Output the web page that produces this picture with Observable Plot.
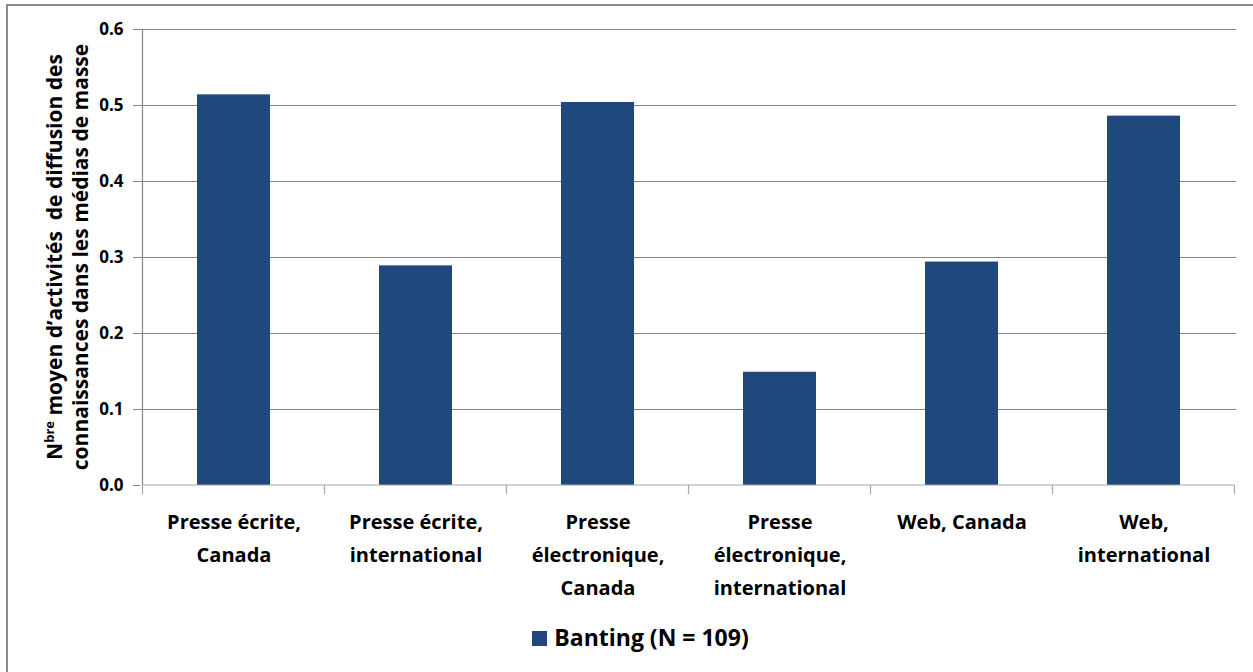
<!DOCTYPE html>
<html>
<head>
<meta charset="utf-8">
<script src="https://cdn.jsdelivr.net/npm/d3@7"></script>
<script src="https://cdn.jsdelivr.net/npm/@observablehq/plot@0.6"></script>
<style>
  body { margin: 0; background: #fff; font-family: "Open Sans", sans-serif; }
  #wrap { position: relative; width: 1253px; height: 672px; overflow: hidden; background: #fff; }
  #frame { position: absolute; left: 6px; top: 4px; width: 1400px; height: 800px;
           border-left: 2px solid #8a8a8a; border-top: 2px solid #8a8a8a; pointer-events: none; }
  #legend { text-align: center; font-weight: bold; font-size: 23px; line-height: 30px;
            padding-top: 10px; padding-left: 28px; color: #000; }
  #legend .sw { display: inline-block; width: 15px; height: 15px; margin-right: 7px; vertical-align: 0px; }
</style>
</head>
<body>
<div id="wrap">
  <div id="chart"></div>
  <div id="legend"></div>
  <div id="frame"></div>
</div>
<script>
// Mean number of mass-media knowledge-dissemination activities, by medium
const categories = [
  "Presse écrite, Canada",
  "Presse écrite, international",
  "Presse électronique, Canada",
  "Presse électronique, international",
  "Web, Canada",
  "Web, international"
];
const tickLabels = [
  "Presse écrite,\nCanada",
  "Presse écrite,\ninternational",
  "Presse\nélectronique,\nCanada",
  "Presse\nélectronique,\ninternational",
  "Web, Canada",
  "Web,\ninternational"
];
const values = [0.514, 0.289, 0.504, 0.149, 0.294, 0.486];
const yTicks = [0, 0.1, 0.2, 0.3, 0.4, 0.5, 0.6];
const seriesName = "Banting (N = 109)";
const seriesColor = "#1f497d";

const data = categories.map((c, i) => ({category: c, label: tickLabels[i], value: values[i]}));

const W = 1253, H = 612, mTop = 29, mBottom = 127, mLeft = 140, mRight = 17;

// category boundary ticks plus the y axis line
function categoryFrame(index, scales, vals, dims) {
  const x = scales.x, y = scales.y;
  const n = categories.length;
  let step, bw;
  if (typeof x.step === "function") { step = x.step(); bw = x.bandwidth(); }
  else { step = (dims.width - dims.marginLeft - dims.marginRight) / n; bw = step * 0.4; }
  const edges = categories.map(c => x(c) - (step - bw) / 2);
  edges.push(edges[n - 1] + step);
  const g = d3.create("svg:g").attr("stroke", "#a6a6a6").attr("stroke-width", 1.2);
  g.append("line").attr("x1", edges[0]).attr("x2", edges[0])
    .attr("y1", y(yTicks[yTicks.length - 1])).attr("y2", y(0)).attr("stroke", "#868686");
  g.append("line").attr("x1", edges[0]).attr("x2", edges[n]).attr("y1", y(0)).attr("y2", y(0));
  for (const e of edges) {
    g.append("line").attr("x1", e).attr("x2", e).attr("y1", y(0)).attr("y2", y(0) + 9);
  }
  return g.node();
}

const plot = Plot.plot({
  width: W,
  height: H,
  marginTop: mTop,
  marginBottom: mBottom,
  marginLeft: mLeft,
  marginRight: mRight,
  style: {fontFamily: "Open Sans", background: "transparent", overflow: "visible"},
  x: {domain: categories, paddingInner: 0.6, paddingOuter: 0.3, axis: null},
  y: {domain: [0, 0.6], axis: null},
  marks: [
    Plot.gridY(yTicks.slice(1), {stroke: "#868686", strokeOpacity: 1, strokeWidth: 1.2}),
    Plot.axisY(yTicks, {
      tickSize: 7, tickPadding: 10, tickFormat: d3.format(".1f"),
      fontSize: 17, fontWeight: "bold", stroke: "#868686", fill: "#000", label: null
    }),
    Plot.barY(data, {x: "category", y: "value", fill: seriesColor}),
    categoryFrame,
    Plot.text(data, {
      x: "category", y: 0, text: "label", lineAnchor: "top", dy: 20,
      fontSize: 20, fontWeight: "bold", lineHeight: 1.65, fill: "#000"
    })
  ]
});

// two-line rotated y axis title
const svg = d3.select(plot);
const cy = (mTop + (H - mBottom)) / 2;
const t1 = svg.append("text")
  .attr("transform", `translate(62,${cy}) rotate(-90)`)
  .attr("text-anchor", "middle")
  .attr("font-family", "Open Sans").attr("font-weight", "bold").attr("font-size", 21)
  .attr("fill", "#000").style("white-space", "pre");
t1.append("tspan").text("N");
t1.append("tspan").attr("font-size", 13).attr("dy", -8).text("bre");
t1.append("tspan").attr("dy", 8).text(" moyen d’activités  de diffusion des");
svg.append("text")
  .attr("transform", `translate(88,${cy}) rotate(-90)`)
  .attr("text-anchor", "middle")
  .attr("font-family", "Open Sans").attr("font-weight", "bold").attr("font-size", 21)
  .attr("fill", "#000")
  .text("connaissances dans les médias de masse");

document.getElementById("chart").appendChild(plot);

const legend = d3.select("#legend");
legend.append("span").attr("class", "sw").style("background", seriesColor);
legend.append("span").text(seriesName);
</script>
</body>
</html>
